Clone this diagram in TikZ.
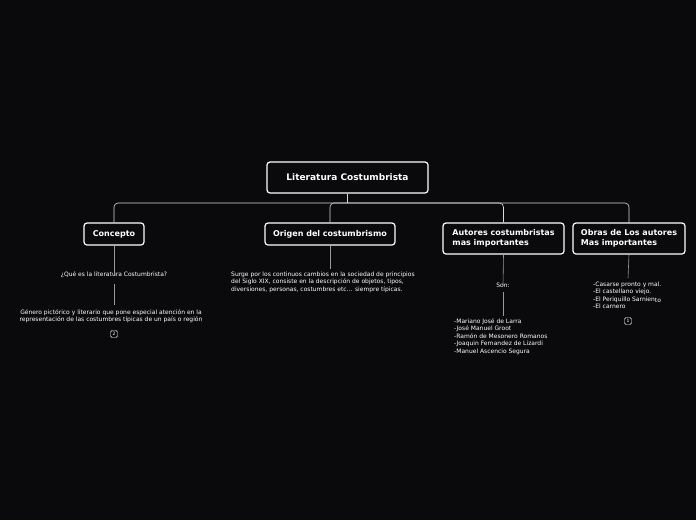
\documentclass[tikz,border=0pt]{standalone}
\usepackage{fontspec}
\setmainfont{DejaVu Sans}
\definecolor{bg}{HTML}{0A0A0C}
\begin{document}
\begin{tikzpicture}[x=1pt,y=-1pt,
 box/.style={draw=white,line width=1.2pt,rounded corners=3pt,fill=bg,text=white,font=\fontsize{8}{9.5}\selectfont\bfseries,inner sep=0pt,align=left},
 txt/.style={text=white,font=\fontsize{6}{7.4}\selectfont,inner sep=0pt,align=left},
 ln/.style={draw=white!85!black,line width=0.6pt},
 gl/.style={draw=gray!80,line width=0.6pt},
 badge/.style={draw=white,rounded corners=1.5pt,text=white,font=\fontsize{4.5}{5}\selectfont,minimum width=7pt,minimum height=7pt,inner sep=0pt}]
\fill[bg] (0,0) rectangle (696,520);
\useasboundingbox (0,0) rectangle (696,520);
\node[box,minimum width=161pt,minimum height=31pt,align=center,font=\fontsize{9}{11}\selectfont\bfseries] (root) at (347.5,177.5) {Literatura Costumbrista};
\node[box,minimum width=60pt,minimum height=22pt,align=center] (c) at (114,234) {Concepto};
\node[box,minimum width=130pt,minimum height=22pt,align=center] (o) at (330,234) {Origen del costumbrismo};
\node[box,minimum width=121pt,minimum height=31pt] (a) at (503.5,238.5) {Autores costumbristas\\mas importantes};
\node[box,minimum width=112pt,minimum height=31pt] (b) at (629,238.5) {Obras de Los autores\\Mas importantes};
\coordinate (r1) at (347.5,203);
\draw[ln] (root.south) -- (r1);
\draw[ln,rounded corners=4pt] (c.north) |- (r1) -| (b.north);
\draw[ln,rounded corners=4pt] (o.north) |- (r1) -| (a.north);
% Concepto branch
\node[txt] (c1) at (114,275) {¿Qué es la literatura Costumbrista?};
\node[txt,align=center] (c2) at (111,316) {Género pictórico y literario que pone especial atención en la\\representación de las costumbres típicas de un país o región};
\node[badge] (c3) at (114,334) {2};
\coordinate (c1b) at (114,284);
\coordinate (c2t) at (114,305);
\draw[gl] (c.south) -- ([yshift=-3pt]c1.north);
\draw[gl] (c1b) -- (c2t);
% Origen
\node[txt,anchor=north west] (o1) at (231,271.5) {Surge por los continuos cambios en la sociedad de principios\\del Siglo XIX, consiste en la descripción de objetos, tipos,\\diversiones, personas, costumbres etc... siempre típicas.};
\coordinate (o1t) at (330,269);
\draw[gl] (o.south) -- (o1t);
% Autores
\node[txt] (a1) at (503,285) {Son:};
\node[txt,anchor=north west] (a2) at (454,318.5) {-Mariano José de Larra\\-José Manuel Groot\\-Ramón de Mesonero Romanos\\-Joaquin Fernandez de Lizardi\\-Manuel Ascencio Segura};
\coordinate (a1b) at (503,292);
\coordinate (a2t) at (503,316);
\draw[gl] (a.south) -- ([yshift=-3pt]a1.north);
\draw[gl] (a1b) -- (a2t);
% Obras
\node[txt,anchor=north west] (b1) at (593,281.5) {-Casarse pronto y mal.\\-El castellano viejo.\\-El Periquillo Sarnien\raisebox{-1pt}{to}\\-El carnero};
\node[badge] (b2) at (628,321) {1};
\coordinate (b1t) at (628,278);
\draw[gl] (b.south) -- (b1t);
\end{tikzpicture}
\end{document}
